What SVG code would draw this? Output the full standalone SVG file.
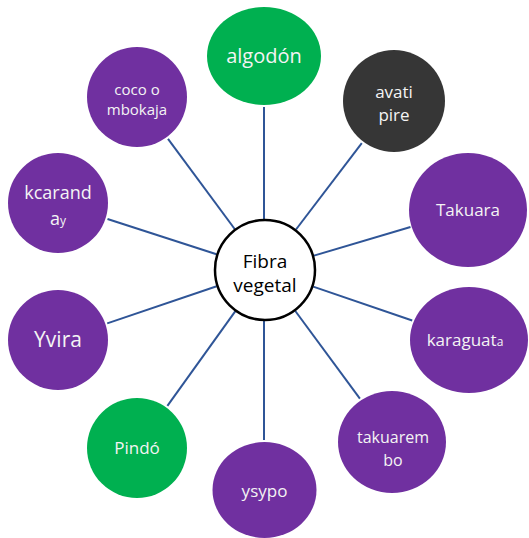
<svg xmlns="http://www.w3.org/2000/svg" width="529" height="538" viewBox="0 0 529 538">
<style>
.purple{fill:#7030A0}
.green{fill:#00B050}
.dark{fill:#363636}
.t{font-family:"Open Sans","Liberation Sans",sans-serif;fill:#F4F4F4;text-anchor:middle}
.c{font-family:"Open Sans","Liberation Sans",sans-serif;fill:#000;text-anchor:middle;font-size:19px}
.conn line{stroke:#2F5597;stroke-width:2}
</style>
<rect width="529" height="538" fill="#fff"/>
<g id="connectors" class="conn">
<line x1="264" y1="219" x2="264" y2="107"/>
<line x1="296" y1="229.5" x2="361.8" y2="143.1"/>
<line x1="313.9" y1="255.6" x2="410.5" y2="227"/>
<line x1="313.2" y1="286.6" x2="412.2" y2="320.5"/>
<line x1="295.3" y1="311" x2="359.9" y2="398.6"/>
<line x1="264" y1="321" x2="264" y2="440"/>
<line x1="235.2" y1="311.4" x2="167.4" y2="405.8"/>
<line x1="216.7" y1="286.3" x2="107.2" y2="323.4"/>
<line x1="216.5" y1="254.3" x2="107.5" y2="219"/>
<line x1="234.7" y1="229" x2="168" y2="138.8"/>
</g>
<g id="center">
<circle cx="265" cy="270" r="50" fill="#fff" stroke="#000" stroke-width="2.5"/>
<text class="c" x="265" y="268">Fibra</text>
<text class="c" x="265" y="292">vegetal</text>
</g>
<g id="algodon">
<ellipse class="green" cx="264" cy="56" rx="57" ry="49"/>
<text class="t" x="264" y="63" font-size="20">algodón</text>
</g>
<g id="avati-pire">
<circle class="dark" cx="394" cy="101" r="51"/>
<text class="t" x="394" y="98" font-size="17">avati</text>
<text class="t" x="394" y="121" font-size="17">pire</text>
</g>
<g id="takuara">
<ellipse class="purple" cx="468" cy="210" rx="59" ry="57"/>
<text class="t" x="468" y="216" font-size="17">Takuara</text>
</g>
<g id="karaguata">
<ellipse class="purple" cx="469" cy="340" rx="59" ry="53"/>
<text class="t" x="465" y="346" font-size="17">karaguat<tspan font-size="12">a</tspan></text>
</g>
<g id="takuarembo">
<ellipse class="purple" cx="392" cy="442" rx="54" ry="51"/>
<text class="t" x="393" y="443" font-size="16">takuarem</text>
<text class="t" x="393" y="466" font-size="16">bo</text>
</g>
<g id="ysypo">
<ellipse class="purple" cx="264.5" cy="490" rx="52" ry="48"/>
<text class="t" x="264.5" y="497" font-size="17">ysypo</text>
</g>
<g id="pindo">
<circle class="green" cx="137" cy="448" r="50"/>
<text class="t" x="137" y="454" font-size="17">Pindó</text>
</g>
<g id="yvira">
<circle class="purple" cx="58" cy="340" r="50"/>
<text class="t" x="58" y="347" font-size="21">Yvira</text>
</g>
<g id="kcaranday">
<circle class="purple" cx="58" cy="203" r="50"/>
<text class="t" x="58" y="199" font-size="18">kcarand</text>
<text class="t" x="58" y="225" font-size="18">a<tspan font-size="12">y</tspan></text>
</g>
<g id="coco-mbokaja">
<circle class="purple" cx="137" cy="97" r="50"/>
<text class="t" x="137" y="95" font-size="15">coco o</text>
<text class="t" x="137" y="115" font-size="15">mbokaja</text>
</g>
</svg>
